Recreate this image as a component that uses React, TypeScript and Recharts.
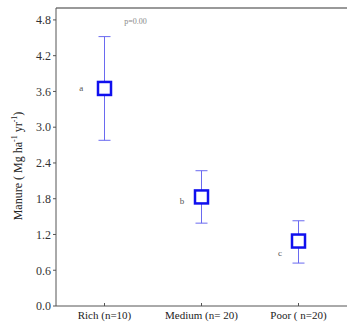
import {
  ComposedChart,
  Scatter,
  ErrorBar,
  XAxis,
  YAxis,
  ReferenceLine,
  LabelList,
} from "recharts";

const categories = ["Rich (n=10)", "Medium (n= 20)", "Poor ( n=20)"];
const means = [3.65, 1.83, 1.09];
const lower = [2.78, 1.39, 0.72];
const upper = [4.52, 2.27, 1.43];
const groupLetters = ["a", "b", "c"];
const letterX = [-0.24, 0.8, 1.81];
const letterY = [3.65, 1.76, 0.89];
const yTicks = [0, 0.6, 1.2, 1.8, 2.4, 3.0, 3.6, 4.2, 4.8];

const points = means.map((m, i) => ({
  x: i,
  y: m,
  err: [m - lower[i], upper[i] - m],
}));

const letterPoints = groupLetters.map((t, i) => ({
  x: letterX[i],
  y: letterY[i],
  t,
}));

const pPoint = [{ x: 0.32, y: 4.77, t: "p=0.00" }];

const font = "'Liberation Serif', 'DejaVu Serif', serif";

const SquareMark = (props: any) => {
  const { cx, cy } = props;
  const s = 13;
  return (
    <rect
      x={cx - s / 2}
      y={cy - s / 2}
      width={s}
      height={s}
      fill="#fff"
      stroke="#1010ee"
      strokeWidth={2.5}
    />
  );
};

const Empty = () => null;

const LetterText = (size: number, color: string) => (props: any) => {
  const { x, y, width, height, value } = props;
  return (
    <text
      x={x + (width || 0) / 2}
      y={y + (height || 0) / 2}
      textAnchor="middle"
      dominantBaseline="central"
      fontFamily={font}
      fontSize={size}
      style={{ fill: color }}
    >
      {value}
    </text>
  );
};

const YLabel = () => (
  <text
    transform="translate(18,166) rotate(-90)"
    textAnchor="middle"
    dominantBaseline="central"
    fontFamily={font}
    fontSize={12}
    fill="#222"
  >
    Manure ( Mg ha
    <tspan dy={-4} fontSize={8}>-1</tspan>
    <tspan dy={4}> yr</tspan>
    <tspan dy={-4} fontSize={8}>-1</tspan>
    <tspan dy={4}>)</tspan>
  </text>
);

export default function App() {
  return (
    <div style={{ position: "absolute", left: 0, top: 0, background: "#fff" }}>
      <ComposedChart
        width={347}
        height={327}
        margin={{ top: 8, right: 0, bottom: 0, left: 0 }}
      >
        <XAxis
          type="number"
          dataKey="x"
          domain={[-0.5, 2.5]}
          ticks={[0, 1, 2]}
          tickFormatter={(v: number) => categories[v] ?? ""}
          stroke="#555"
          height={21}
          tick={{ fontFamily: font, fontSize: 11, fill: "#222" }}
          tickSize={-3}
          tickMargin={8}
          allowDataOverflow
        />
        <YAxis
          type="number"
          dataKey="y"
          domain={[0, 5]}
          ticks={yTicks}
          tickFormatter={(v: number) => v.toFixed(1)}
          stroke="#555"
          width={56}
          tickSize={3}
          tick={{ fontFamily: font, fontSize: 12, fill: "#333" }}
          label={<YLabel />}
          allowDataOverflow
        />
        <ReferenceLine y={5} stroke="#777" strokeWidth={1.5} />
        <Scatter
          data={points}
          shape={<SquareMark />}
          isAnimationActive={false}
        >
          <ErrorBar
            dataKey="err"
            direction="y"
            width={6}
            stroke="#6a6af0"
            strokeWidth={1}
          />
        </Scatter>
        <Scatter data={letterPoints} shape={<Empty />} isAnimationActive={false}>
          <LabelList dataKey="t" content={LetterText(9, "#555")} />
        </Scatter>
        <Scatter data={pPoint} shape={<Empty />} isAnimationActive={false}>
          <LabelList dataKey="t" content={LetterText(8, "#888")} />
        </Scatter>
      </ComposedChart>
    </div>
  );
}
